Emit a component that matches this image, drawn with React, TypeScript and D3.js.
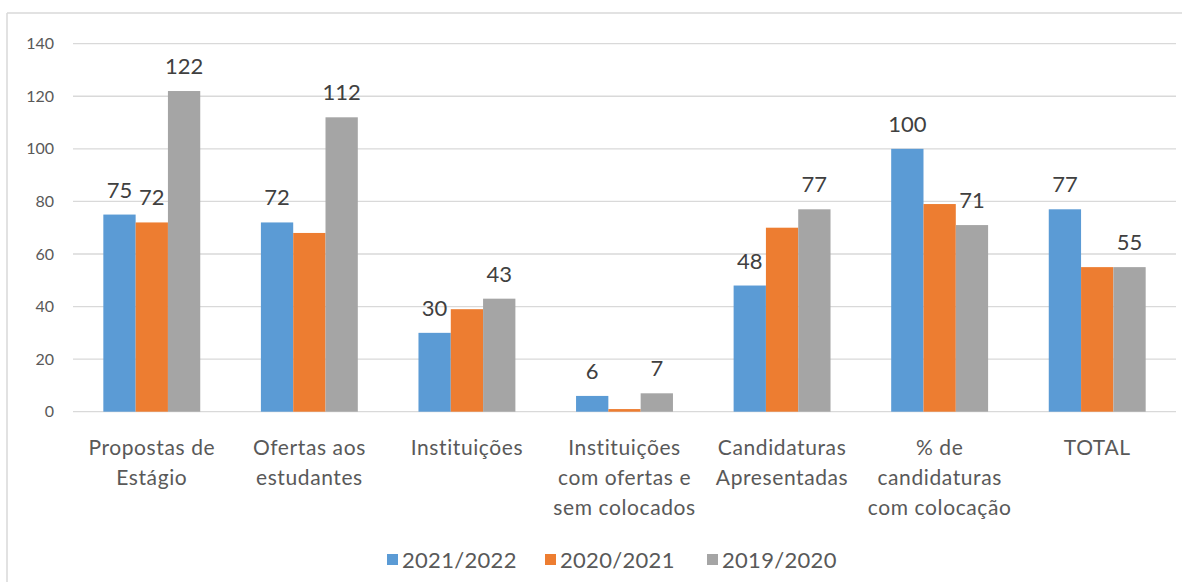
import React from "react";
import * as d3 from "d3";

const categories: string[][] = [
  ["Propostas de", "Estágio"],
  ["Ofertas aos", "estudantes"],
  ["Instituições"],
  ["Instituições", "com ofertas e", "sem colocados"],
  ["Candidaturas", "Apresentadas"],
  ["% de", "candidaturas", "com colocação"],
  ["TOTAL"],
];
const seriesNames = ["2021/2022", "2020/2021", "2019/2020"];
const s2021 = [75, 72, 30, 6, 48, 100, 77];
const s2020 = [72, 68, 39, 1, 70, 79, 55];
const s2019 = [122, 112, 43, 7, 77, 71, 55];
const labels2021 = [75, 72, 30, 6, 48, 100, 77];
const labels2020: (number | null)[] = [72, null, null, null, null, null, null];
const labels2019 = [122, 112, 43, 7, 77, 71, 55];
const yTicks = [0, 20, 40, 60, 80, 100, 120, 140];

const colors = ["#5B9BD5", "#ED7D31", "#A5A5A5"];
const FONT = "Lato, 'Open Sans', sans-serif";
const TXT = "#595959";

export default function App() {
  const W = 1182, H = 582;
  const series = [s2021, s2020, s2019];
  const labs = [labels2021, labels2020, labels2019];
  const keys = categories.map((c) => c.join(" "));
  const x = d3.scaleBand<string>().domain(keys).range([73, 1176]).paddingInner(0.385).paddingOuter(0.1925);
  const x1 = d3.scaleBand<number>().domain([0, 1, 2]).range([0, x.bandwidth()]);
  const y = d3.scaleLinear().domain([0, 140]).range([411.7, 43.7]);

  const legendItems = [
    { x: 387, tx: 402 },
    { x: 545, tx: 560 },
    { x: 707, tx: 722 },
  ];

  return (
    <svg width={W} height={H} style={{ position: "absolute", left: 0, top: 0, background: "#fff" }}>
      <rect x={0} y={0} width={W} height={H} fill="#fff" />
      <line x1={7} y1={13} x2={W} y2={13} stroke="#D9D9D9" strokeWidth={1.5} />
      <line x1={7} y1={13} x2={7} y2={H} stroke="#D9D9D9" strokeWidth={1.5} />
      {yTicks.map((t) => (
        <g key={t}>
          <line x1={73} x2={1176} y1={y(t)} y2={y(t)} stroke="#D9D9D9" strokeWidth={1.3} />
          <text x={54} y={y(t)} dy="0.35em" textAnchor="end" fontFamily={FONT} fontSize={16} fill={TXT}>
            {t}
          </text>
        </g>
      ))}
      {keys.map((k, i) => (
        <g key={k} transform={`translate(${x(k)},0)`}>
          {series.map((s, j) => (
            <rect key={j} x={x1(j)} y={y(s[i])} width={x1.bandwidth()} height={y(0) - y(s[i])} fill={colors[j]} />
          ))}
          {labs.map((l, j) =>
            l[i] == null ? null : (
              <text
                key={"l" + j}
                x={(x1(j) as number) + x1.bandwidth() / 2}
                y={y(series[j][i]) - 17}
                textAnchor="middle"
                fontFamily={FONT}
                fontSize={22}
                fill="#404040"
              >
                {l[i]}
              </text>
            )
          )}
          {categories[i].map((line, li) => (
            <text
              key={"c" + li}
              x={x.bandwidth() / 2}
              y={448 + li * 30}
              dy="0.35em"
              textAnchor="middle"
              fontFamily={FONT}
              fontSize={21}
              letterSpacing={0.6}
              fill={TXT}
            >
              {line}
            </text>
          ))}
        </g>
      ))}
      {seriesNames.map((n, j) => (
        <g key={n}>
          <rect x={legendItems[j].x} y={554} width={11} height={11} fill={colors[j]} />
          <text x={legendItems[j].tx} y={560} dy="0.35em" fontFamily={FONT} fontSize={22} letterSpacing={0.3} fill={TXT}>
            {n}
          </text>
        </g>
      ))}
    </svg>
  );
}
